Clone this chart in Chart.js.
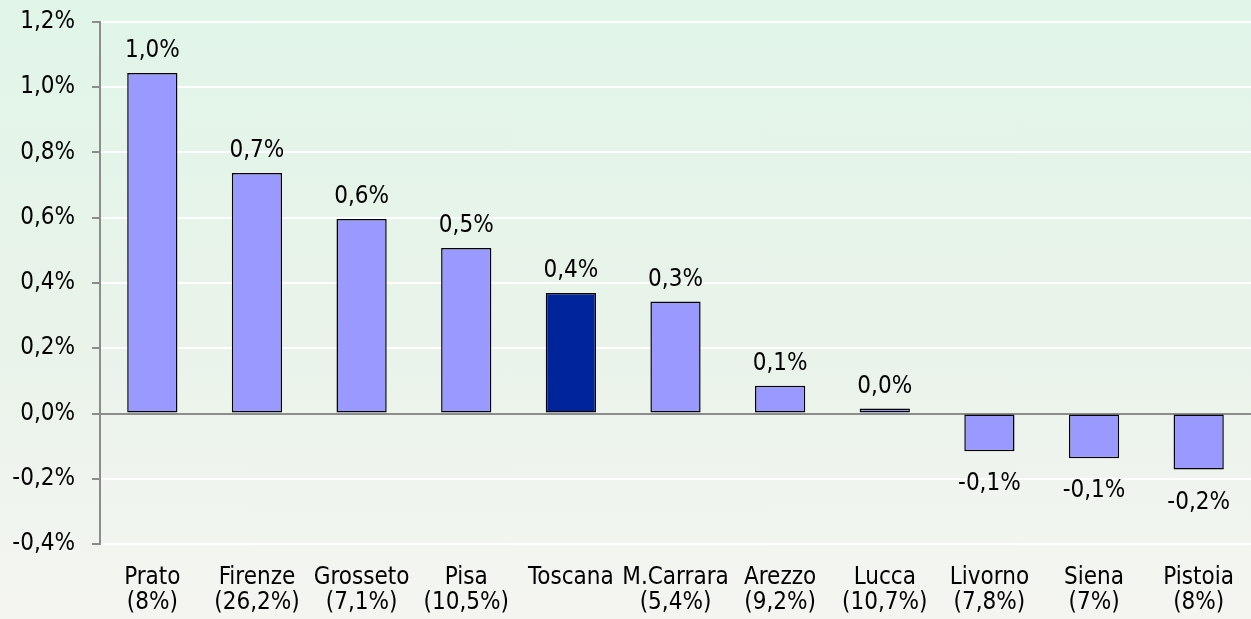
<!DOCTYPE html>
<html>
<head>
<meta charset="utf-8">
<script src="https://cdn.jsdelivr.net/npm/chart.js@4/dist/chart.umd.min.js"></script>
<style>
  html, body { margin: 0; padding: 0; }
  body { width: 1251px; height: 619px; background: linear-gradient(to bottom, #e1f5e9 0%, #e9f3ea 55%, #f4f5f1 100%); overflow: hidden; }
  #wrap { width: 1251px; height: 619px; position: relative; }
</style>
</head>
<body>
<div id="wrap"><canvas id="c" width="1251" height="619"></canvas></div>
<script>
const categories = ["Prato", "Firenze", "Grosseto", "Pisa", "Toscana", "M.Carrara", "Arezzo", "Lucca", "Livorno", "Siena", "Pistoia"];
const shares = ["(8%)", "(26,2%)", "(7,1%)", "(10,5%)", "", "(5,4%)", "(9,2%)", "(10,7%)", "(7,8%)", "(7%)", "(8%)"];
const values = [1.044, 0.737, 0.596, 0.507, 0.369, 0.343, 0.085, 0.015, -0.116, -0.137, -0.172];
const highlight = "Toscana";
const yMin = -0.4, yMax = 1.2, yStep = 0.2;

const FONT = "'DejaVu Sans Condensed', 'DejaVu Sans', Verdana, sans-serif";
const FS = 24;
const fmt = v => v.toFixed(1).replace('.', ',') + '%';

const labels = categories.map((c, i) => [c, shares[i]]);

const dataLabelPlugin = {
  id: 'dataLabels',
  afterDatasetsDraw(chart) {
    const ctx = chart.ctx;
    const meta = chart.getDatasetMeta(0);
    ctx.save();
    ctx.font = FS + "px " + FONT;
    ctx.fillStyle = "#000";
    ctx.textAlign = "center";
    ctx.textBaseline = "alphabetic";
    meta.data.forEach((bar, i) => {
      const v = values[i];
      const t = fmt(v);
      if (v >= 0) {
        ctx.fillText(t, bar.x, bar.y - 16);
      } else {
        ctx.fillText(t, bar.x, bar.y + 39);
      }
    });
    ctx.restore();
  }
};

new Chart(document.getElementById('c'), {
  type: 'bar',
  data: {
    labels: labels,
    datasets: [{
      data: values,
      backgroundColor: categories.map(c => c === highlight ? '#00249c' : '#9999ff'),
      borderColor: '#000000',
      borderWidth: 1.5,
      borderSkipped: false,
      barPercentage: 0.48,
      categoryPercentage: 1.0
    }]
  },
  options: {
    responsive: false,
    animation: false,
    events: [],
    layout: { padding: { top: 22, left: 0, right: 0, bottom: 0 } },
    plugins: { legend: { display: false }, tooltip: { enabled: false }, title: { display: false } },
    scales: {
      x: {
        grid: { display: false, drawTicks: false },
        border: { display: false },
        ticks: { color: '#000', font: { family: FONT, size: FS, lineHeight: 1.02 }, padding: 22, maxRotation: 0, autoSkip: false },
        afterFit(s) { s.height = 75; s.paddingLeft = 0; s.paddingRight = 0; }
      },
      y: {
        min: yMin, max: yMax,
        grid: {
          color: c => (Math.abs(c.tick.value) < 1e-9 ? '#8c8c8c' : '#ffffff'),
          lineWidth: 2,
          tickColor: '#8c8c8c',
          tickLength: 8,
          tickWidth: 2
        },
        border: { display: true, color: '#8c8c8c', width: 2 },
        ticks: {
          stepSize: yStep,
          color: '#000',
          padding: 17,
          font: { family: FONT, size: FS, lineHeight: 1.0 },
          callback: v => fmt(Math.abs(v) < 1e-9 ? 0 : v)
        },
        afterFit(s) { s.width = 100; s.paddingTop = 0; s.paddingBottom = 0; }
      }
    }
  },
  plugins: [dataLabelPlugin]
});
</script>
</body>
</html>
